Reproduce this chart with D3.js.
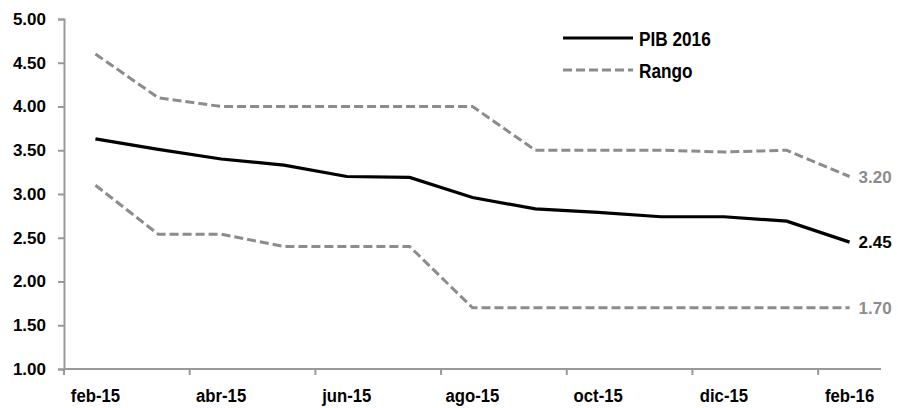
<!DOCTYPE html>
<html><head><meta charset="utf-8">
<script src="https://cdn.jsdelivr.net/npm/d3@7/dist/d3.min.js"></script>
<style>
body{margin:0;background:#fff;}
text{font-family:"Liberation Sans",Arial,sans-serif;font-weight:bold;}
</style></head><body>
<svg id="c" width="898" height="408"></svg>
<script>
const months = ["feb-15","mar-15","abr-15","may-15","jun-15","jul-15","ago-15","sep-15","oct-15","nov-15","dic-15","ene-16","feb-16"];
const pib   = [3.63,3.51,3.40,3.33,3.20,3.19,2.96,2.83,2.79,2.74,2.74,2.69,2.45];
const upper = [4.60,4.10,4.00,4.00,4.00,4.00,4.00,3.50,3.50,3.50,3.48,3.50,3.20];
const lower = [3.10,2.54,2.54,2.40,2.40,2.40,1.70,1.70,1.70,1.70,1.70,1.70,1.70];
const yTicks = [1.00,1.50,2.00,2.50,3.00,3.50,4.00,4.50,5.00];
const xLabels = ["feb-15","abr-15","jun-15","ago-15","oct-15","dic-15","feb-16"];
const legendItems = ["PIB 2016","Rango"];

const svg = d3.select("#c");
const m = {l:64, r:17, t:19, b:39};
const W = 898, H = 408;
const x = d3.scaleBand().domain(months).range([m.l, W - m.r]);
const y = d3.scaleLinear().domain([1,5]).range([H - m.b, m.t]);
const cx = d => x(d) + x.bandwidth()/2;
const axisCol = "#999999", grayCol = "#8c8c8c";

// y axis
const ya = svg.append("g").attr("transform",`translate(${m.l},0)`)
  .call(d3.axisLeft(y).tickValues(yTicks).tickFormat(d3.format(".2f")).tickSize(6).tickPadding(12));
ya.select(".domain").attr("stroke",axisCol).attr("stroke-width",2);
ya.selectAll(".tick line").attr("stroke",axisCol).attr("stroke-width",2);
ya.selectAll("text").attr("fill","#000").style("font-size","17px");

// x axis: ticks at every second category boundary
const xa = svg.append("g").attr("transform",`translate(0,${y(1)})`);
xa.append("line").attr("x1",m.l).attr("x2",W-m.r).attr("stroke",axisCol).attr("stroke-width",2);
const tickIdx = d3.range(0, months.length, 2);
xa.selectAll(".xt").data(tickIdx).join("line")
  .attr("x1",i => x(months[i])).attr("x2",i => x(months[i]))
  .attr("y1",0).attr("y2",6).attr("stroke",axisCol).attr("stroke-width",2);
xa.selectAll(".xl").data(xLabels).join("text")
  .attr("transform",d => `translate(${cx(d)},33) scale(0.88,1)`).attr("text-anchor","middle")
  .style("font-size","19px").attr("fill","#000").text(d => d);

const line = d3.line().x((d,i) => cx(months[i])).y(d => y(d));
[upper, lower].forEach(s => svg.append("path").datum(s).attr("d",line)
  .attr("fill","none").attr("stroke",grayCol).attr("stroke-width",3).attr("stroke-dasharray","9,4"));
svg.append("path").datum(pib).attr("d",line).attr("fill","none")
  .attr("stroke","#000").attr("stroke-width",3.2);

// end labels
const last = months.length-1;
const endLabels = [[upper[last],grayCol],[pib[last],"#000"],[lower[last],grayCol]];
svg.selectAll(".el").data(endLabels).join("text")
  .attr("x", cx(months[last]) + 9).attr("y", d => y(d[0]) + 6)
  .style("font-size","17px").attr("fill", d => d[1]).text(d => d[0].toFixed(2));

// legend
const lg = svg.append("g");
legendItems.forEach((t,i) => {
  const ly = 38 + i*32;
  lg.append("line").attr("x1",563).attr("x2",633).attr("y1",ly).attr("y2",ly)
    .attr("stroke", i===0 ? "#000" : grayCol).attr("stroke-width",3)
    .attr("stroke-dasharray", i===0 ? null : "9,4");
  lg.append("text").attr("transform",`translate(639,${ly+7.5}) scale(0.82,1)`)
    .style("font-size","21px").attr("fill","#000").text(t);
});
</script></body></html>
